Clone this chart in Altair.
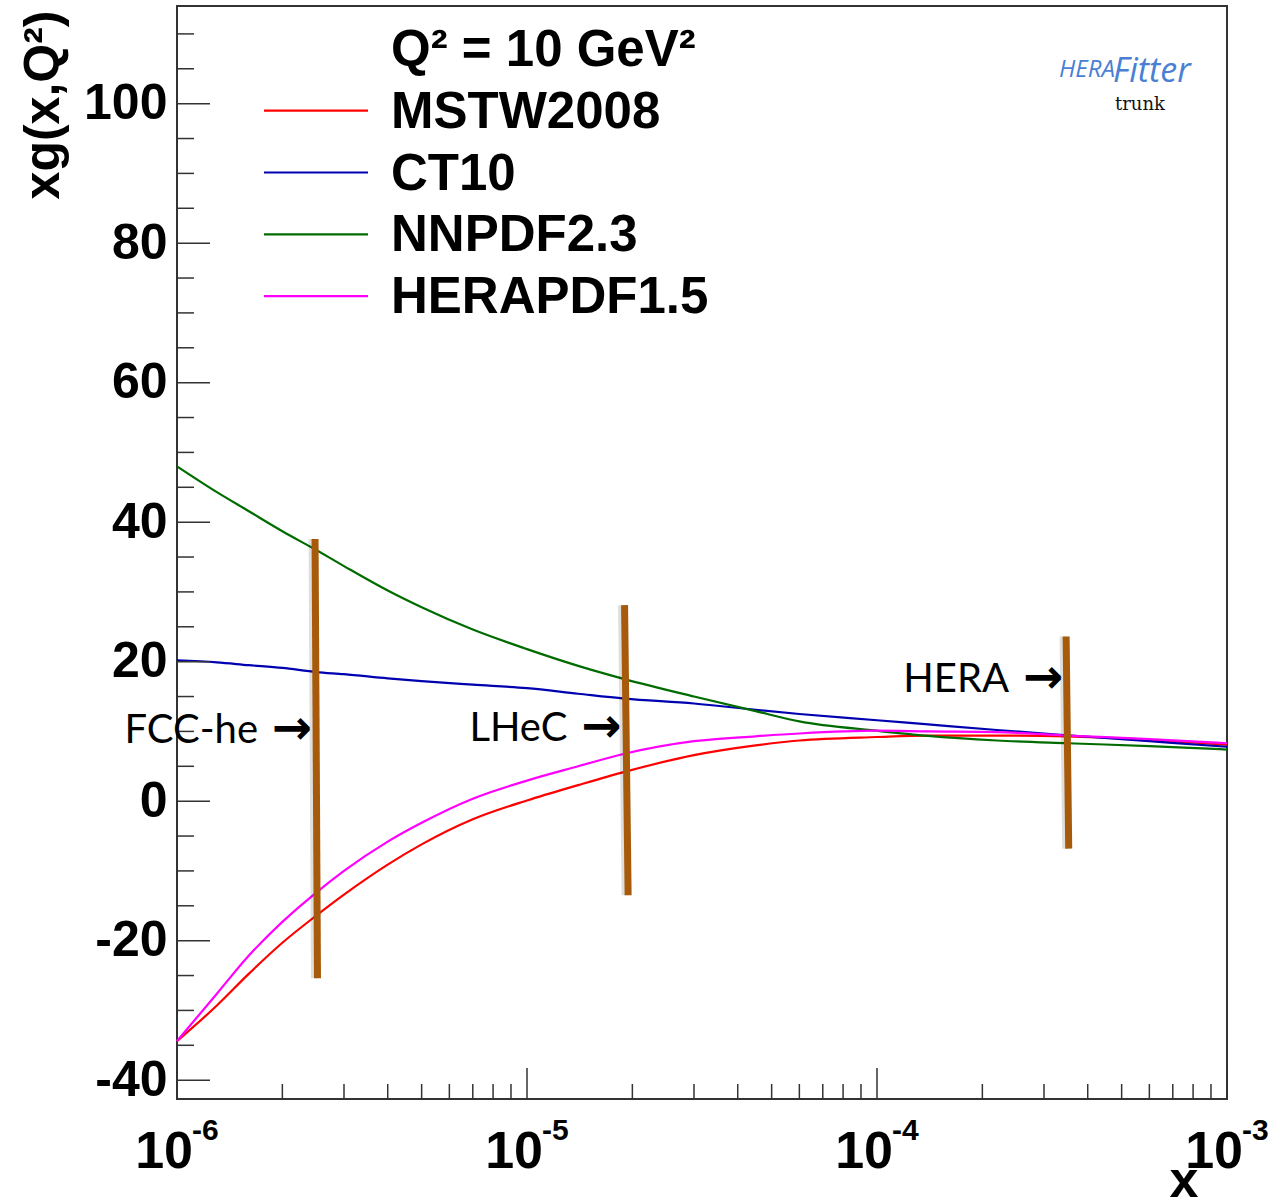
import altair as alt
import pandas as pd

# ---- gluon density xg(x, Q^2) at Q^2 = 10 GeV^2 ----
x_grid = [1e-6, 1.3e-6, 1.6e-6, 2e-6, 2.5e-6, 3e-6, 4e-6, 5e-6, 7e-6, 1e-5,
          1.4e-5, 1.9e-5, 3e-5, 4.5e-5, 6e-5, 1e-4, 1.4e-4, 2.2e-4, 3.5e-4,
          6e-4, 1e-3]
xg_mstw = [-34.4, -29.3, -24.8, -20.3, -16.4, -13.4, -9.1, -6.2, -2.6, 0.1,
           2.3, 4.2, 6.6, 8.0, 8.7, 9.2, 9.4, 9.4, 9.3, 8.8, 8.1]
xg_ct10 = [20.2, 19.9, 19.5, 19.1, 18.5, 18.2, 17.6, 17.2, 16.7, 16.2,
           15.4, 14.7, 14.0, 13.1, 12.5, 11.6, 11.0, 10.2, 9.45, 8.6, 7.8]
xg_nnpdf = [48.0, 44.3, 41.6, 38.7, 36.0, 33.7, 30.2, 27.8, 24.6, 21.8,
            19.4, 17.5, 15.0, 12.9, 11.45, 10.1, 9.35, 8.7, 8.3, 7.9, 7.4]
xg_herapdf = [-34.4, -27.6, -22.2, -17.3, -13.1, -10.0, -5.8, -3.1, 0.35, 2.95,
              5.0, 6.8, 8.6, 9.3, 9.7, 10.1, 10.0, 9.9, 9.4, 8.9, 8.3]

series_names = ["MSTW2008", "CT10", "NNPDF2.3", "HERAPDF1.5"]
series_colors = ["#ff0000", "#0000b0", "#006c00", "#ff00ff"]
header_text = "Q² = 10 GeV²"

# ---- kinematic reach of the colliders (vertical bars) ----
reach_names = ["FCC-he", "LHeC", "HERA"]
reach_x_top = [2.48e-6, 1.90e-5, 3.47e-4]
reach_x_bottom = [2.52e-6, 1.945e-5, 3.53e-4]
reach_y_top = [37.6, 28.1, 23.6]
reach_y_bottom = [-25.4, -13.5, -6.8]
reach_label_y = [10.3, 10.7, 17.7]

# ---- axis ticks ----
y_major = [-40, -20, 0, 20, 40, 60, 80, 100]
y_minor = [-35, -30, -25, -15, -10, -5, 5, 10, 15, 25, 30, 35, 45, 50, 55,
           65, 70, 75, 85, 90, 95, 105, 110]
x_decades = [1e-6, 1e-5, 1e-4, 1e-3]
x_exponents = ["-6", "-5", "-4", "-3"]
x_minor = [m * d for d in [1e-6, 1e-5, 1e-4] for m in range(2, 10)]

W, H = 1050, 1093
BOLD = "Liberation Sans"
AXIS_COLOR = "#333333"

xs = alt.Scale(type="log", domain=[1e-6, 1e-3], nice=False)
ys = alt.Scale(domain=[-42.7, 114], nice=False, zero=False)

x_axis = alt.Axis(
    labels=False, ticks=False, domain=False, grid=False, title="x",
    titleFont=BOLD, titleFontSize=52, titleFontWeight="bold", titleColor="black",
    titleX=1021, titleY=97, titleAlign="right", titleBaseline="alphabetic")
y_axis = alt.Axis(
    values=y_major, ticks=False, domain=False, grid=False,
    labelExpr="replace(datum.label, '\u2212', '-')",
    labelFont=BOLD, labelFontSize=50, labelFontWeight="bold", labelColor="black",
    labelPadding=10, title="xg(x,Q²)",
    titleFont=BOLD, titleFontSize=50, titleFontWeight="bold", titleColor="black",
    titleAngle=270, titleX=-119, titleY=4, titleAlign="right", titleBaseline="alphabetic")


def X(field):
    return alt.X(field, scale=xs, axis=x_axis)


def Y(field):
    return alt.Y(field, scale=ys, axis=y_axis)


color_enc = alt.Color("pdf:N", scale=alt.Scale(domain=series_names, range=series_colors), legend=None)

curves_df = pd.concat([
    pd.DataFrame({"x": x_grid, "xg": vals, "pdf": name, "order": i})
    for i, (name, vals) in enumerate(zip(series_names, [xg_mstw, xg_ct10, xg_nnpdf, xg_herapdf]))
])

curves = alt.Chart(curves_df).mark_line(strokeWidth=2.2, interpolate="monotone").encode(
    x=X("x:Q"), y=Y("xg:Q"), color=color_enc, detail="pdf:N", order="order:Q")

# inward-pointing ticks
ymaj_ticks = alt.Chart(pd.DataFrame({"v": y_major})).mark_rule(color=AXIS_COLOR, strokeWidth=1.5).encode(
    y=Y("v:Q"), x=alt.value(0), x2=alt.value(33))
ymin_ticks = alt.Chart(pd.DataFrame({"v": y_minor})).mark_rule(color=AXIS_COLOR, strokeWidth=1.5).encode(
    y=Y("v:Q"), x=alt.value(0), x2=alt.value(17))
xmaj_ticks = alt.Chart(pd.DataFrame({"v": x_decades})).mark_rule(color=AXIS_COLOR, strokeWidth=1.5).encode(
    x=X("v:Q"), y=alt.value(H), y2=alt.value(H - 31))
xmin_ticks = alt.Chart(pd.DataFrame({"v": x_minor})).mark_rule(color=AXIS_COLOR, strokeWidth=1.5).encode(
    x=X("v:Q"), y=alt.value(H), y2=alt.value(H - 15))

# decade labels 10^n
xlab_df = pd.DataFrame({"v": x_decades, "exp": x_exponents, "base": "10"})
xlab_base = alt.Chart(xlab_df).mark_text(
    align="right", baseline="alphabetic", font=BOLD, fontWeight="bold", fontSize=52, dx=16, color="black"
).encode(x=X("v:Q"), y=alt.value(1162), text="base:N")
xlab_exp = alt.Chart(xlab_df).mark_text(
    align="left", baseline="alphabetic", font=BOLD, fontWeight="bold", fontSize=30, dx=15, color="black"
).encode(x=X("v:Q"), y=alt.value(1134), text="exp:N")

reach_df = pd.DataFrame({"name": reach_names, "xt": reach_x_top, "xb": reach_x_bottom,
                         "yt": reach_y_top, "yb": reach_y_bottom, "ly": reach_label_y, "arrow": "→"})
reach_shadow = alt.Chart(reach_df).mark_rule(
    color="#000000", opacity=0.13, strokeWidth=7, strokeCap="butt", xOffset=-3, x2Offset=-3
).encode(x=X("xt:Q"), x2="xb:Q", y=Y("yt:Q"), y2="yb:Q")
reach_bars = alt.Chart(reach_df).mark_rule(color="#a65a0a", strokeWidth=7, strokeCap="butt").encode(
    x=X("xt:Q"), x2="xb:Q", y=Y("yt:Q"), y2="yb:Q")
reach_arrow = alt.Chart(reach_df).mark_text(
    align="right", baseline="middle", font="DejaVu Sans", fontWeight="bold", fontSize=48, dx=-3, dy=1,
    color="black"
).encode(x=X("xt:Q"), y=Y("ly:Q"), text="arrow:N")
reach_text = alt.Chart(reach_df).mark_text(
    align="right", baseline="middle", font="Lato", fontSize=40, dx=-57, dy=2, color="black"
).encode(x=X("xt:Q"), y=Y("ly:Q"), text="name:N")

layers = [curves, ymaj_ticks, ymin_ticks, xmaj_ticks, xmin_ticks,
          xlab_base, xlab_exp, reach_shadow, reach_bars, reach_arrow, reach_text]

# legend rows, drawn in the upper-left corner of the frame
LEG_Y0, LEG_STEP = 104.7, 61.8
for i, name in enumerate(series_names):
    row = pd.DataFrame({"pdf": [name]})
    y_row = alt.value(LEG_Y0 + i * LEG_STEP)
    layers.append(alt.Chart(row).mark_rule(strokeWidth=2.2).encode(
        x=alt.value(87), x2=alt.value(191), y=y_row, color=color_enc))
    layers.append(alt.Chart(row).mark_text(
        align="left", baseline="middle", font=BOLD, fontWeight="bold", fontSize=51, color="black", dy=2
    ).encode(x=alt.value(214), y=y_row, text="pdf:N"))

layers.append(alt.Chart(pd.DataFrame({"t": [header_text]})).mark_text(
    align="left", baseline="middle", font=BOLD, fontWeight="bold", fontSize=51, color="black", dy=2
).encode(x=alt.value(214), y=alt.value(LEG_Y0 - LEG_STEP), text="t:N"))

# logo
logo_df = pd.DataFrame({"a": ["HERA"], "b": ["Fitter"], "c": ["trunk"]})
layers.append(alt.Chart(logo_df).mark_text(
    align="left", baseline="alphabetic", font="Open Sans", fontStyle="italic", fontSize=24, color="#4a7fd4"
).encode(x=alt.value(882), y=alt.value(71), text="a:N"))
layers.append(alt.Chart(logo_df).mark_text(
    align="left", baseline="alphabetic", font="Open Sans", fontStyle="italic", fontSize=34, color="#4a7fd4"
).encode(x=alt.value(936), y=alt.value(76), text="b:N"))
layers.append(alt.Chart(logo_df).mark_text(
    align="left", baseline="alphabetic", font="DejaVu Serif", fontSize=18, color="#111111"
).encode(x=alt.value(938), y=alt.value(104), text="c:N"))

chart = alt.layer(*layers).properties(
    width=W, height=H,
    padding={"left": 177, "top": 6, "right": 54, "bottom": 105},
    autosize="none", background="white",
).configure_view(stroke=AXIS_COLOR, strokeWidth=2)

chart.save("out.html", embed_options={"renderer": "svg", "actions": False})
